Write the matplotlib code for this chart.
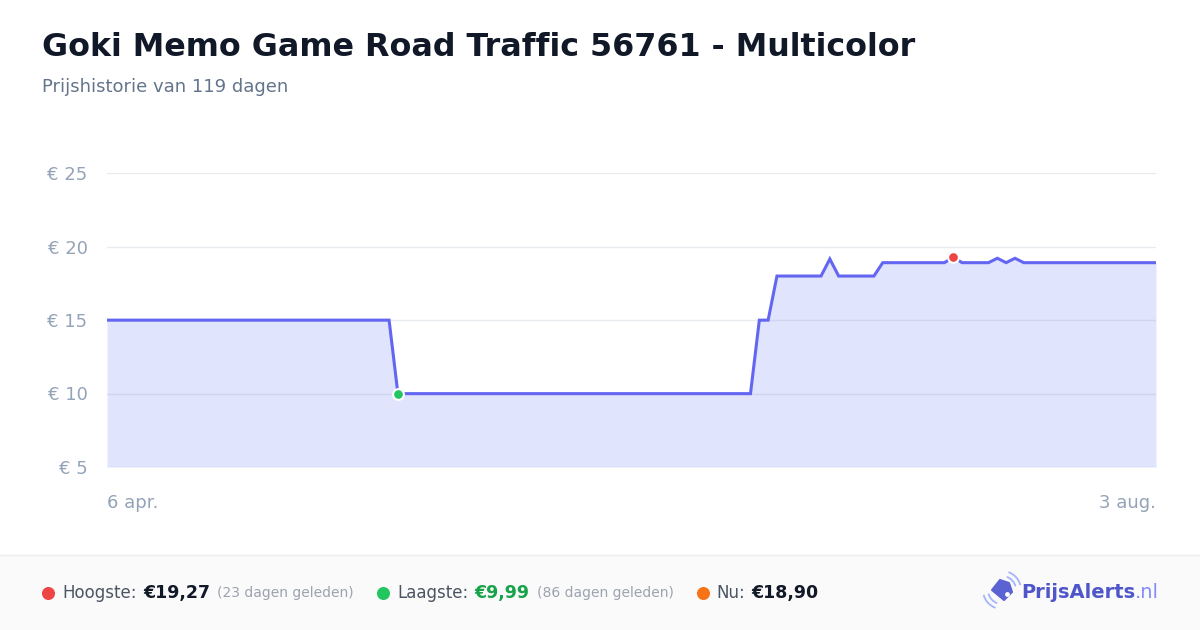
import matplotlib
matplotlib.use("Agg")
import matplotlib.pyplot as plt
from matplotlib.patches import Rectangle, Polygon, Arc

# price history (day index from 6 apr, price in euro)
days = [0, 32, 33, 73, 74, 75, 76, 81, 82, 83, 87, 88, 95, 96, 97, 100, 101, 102, 103, 104, 119]
prices = [14.99, 14.99, 9.99, 9.99, 14.99, 14.99, 17.99, 17.99, 19.15, 17.99, 17.99, 18.90,
          18.90, 19.27, 18.90, 18.90, 19.20, 18.90, 19.20, 18.90, 18.90]
y_ticks = [5, 10, 15, 20, 25]
x_labels = ["6 apr.", "3 aug."]
low_day, low_price = 33, 9.99
high_day, high_price = 96, 19.27

title = "Goki Memo Game Road Traffic 56761 - Multicolor"
subtitle = "Prijshistorie van 119 dagen"

W, H = 1200, 630
fig = plt.figure(figsize=(W / 100, H / 100), dpi=100)
fig.patch.set_facecolor("white")

# background axes in pixel coordinates
bg = fig.add_axes([0, 0, 1, 1], zorder=0)
bg.set_xlim(0, W)
bg.set_ylim(H, 0)
bg.axis("off")

bg.text(42, 47, title, fontsize=22.9, fontweight="bold", color="#111827", va="center", ha="left")
bg.text(42, 87, subtitle, fontsize=13, color="#64748b", va="center", ha="left")

# chart
ax = fig.add_axes([107 / W, 1 - 467 / H, (1156 - 107) / W, (467 - 173) / H], zorder=2)
ax.set_facecolor("none")
ax.fill_between(days, prices, 5, color="#e0e4fc", lw=0, zorder=1)
ax.plot(days, prices, color="#6366f1", lw=2.2, zorder=3, solid_joinstyle="miter")
ax.scatter([low_day], [low_price], s=60, color="#22c55e", edgecolor="white", linewidth=1.5, zorder=5)
ax.scatter([high_day], [high_price], s=60, color="#ef4444", edgecolor="white", linewidth=1.5, zorder=5)
ax.set_xlim(0, 119)
ax.set_ylim(5, 25)
ax.set_yticks(y_ticks)
ax.set_yticklabels([f"€ {v}" for v in y_ticks])
ax.set_xticks([])
ax.set_axisbelow("line")
ax.grid(axis="y", color="#94a3b8", alpha=0.22, lw=1)
for s in ax.spines.values():
    s.set_visible(False)
ax.tick_params(axis="y", length=0, pad=14, labelsize=13, labelcolor="#94a3b8")

bg.text(107, 503, x_labels[0], fontsize=13, color="#94a3b8", ha="left", va="center")
bg.text(1156, 503, x_labels[1], fontsize=13, color="#94a3b8", ha="right", va="center")

# footer
bg.add_patch(Rectangle((0, 555), W, 75, facecolor="#fafafa", edgecolor="none", zorder=0))
bg.plot([0, W], [555, 555], color="#eeeeee", lw=1, zorder=1)

fy = 593
bg.scatter([48], [fy], s=70, color="#ef4444", zorder=2)
bg.text(62, fy, "Hoogste:", fontsize=12, color="#4b5563", va="center")
bg.text(143, fy, "€19,27", fontsize=12.5, fontweight="bold", color="#111827", va="center")
bg.text(217, fy, "(23 dagen geleden)", fontsize=10, color="#9ca3af", va="center")

bg.scatter([383], [fy], s=70, color="#22c55e", zorder=2)
bg.text(397, fy, "Laagste:", fontsize=12, color="#4b5563", va="center")
bg.text(474, fy, "€9,99", fontsize=12.5, fontweight="bold", color="#16a34a", va="center")
bg.text(537, fy, "(86 dagen geleden)", fontsize=10, color="#9ca3af", va="center")

bg.scatter([703], [fy], s=70, color="#f97316", zorder=2)
bg.text(716, fy, "Nu:", fontsize=12, color="#4b5563", va="center")
bg.text(751, fy, "€18,90", fontsize=12.5, fontweight="bold", color="#111827", va="center")

# logo
tag = Polygon([(992, 590), (1000, 580), (1009, 583), (1012, 592), (1004, 600)],
              closed=True, facecolor="#5b63d3", edgecolor="#5b63d3", lw=1.5,
              joinstyle="round", zorder=3)
bg.add_patch(tag)
bg.scatter([1007], [594], s=6, color="white", zorder=4)
for r in (14, 19):
    bg.add_patch(Arc((1002, 590), r * 2, r * 2, theta1=110, theta2=165, color="#a5b4fc", lw=1.3, zorder=2))
    bg.add_patch(Arc((1002, 590), r * 2, r * 2, theta1=290, theta2=345, color="#a5b4fc", lw=1.3, zorder=2))

t_nl = bg.text(1159, fy, ".nl", fontsize=14, color="#818cf8", va="center", ha="right")
fig.canvas.draw()
x0 = bg.transData.inverted().transform(t_nl.get_window_extent().p0)[0]
bg.text(x0, fy, "PrijsAlerts", fontsize=14, fontweight="bold", color="#4f56c9", va="center", ha="right")

fig.savefig("out.png", dpi=100)
